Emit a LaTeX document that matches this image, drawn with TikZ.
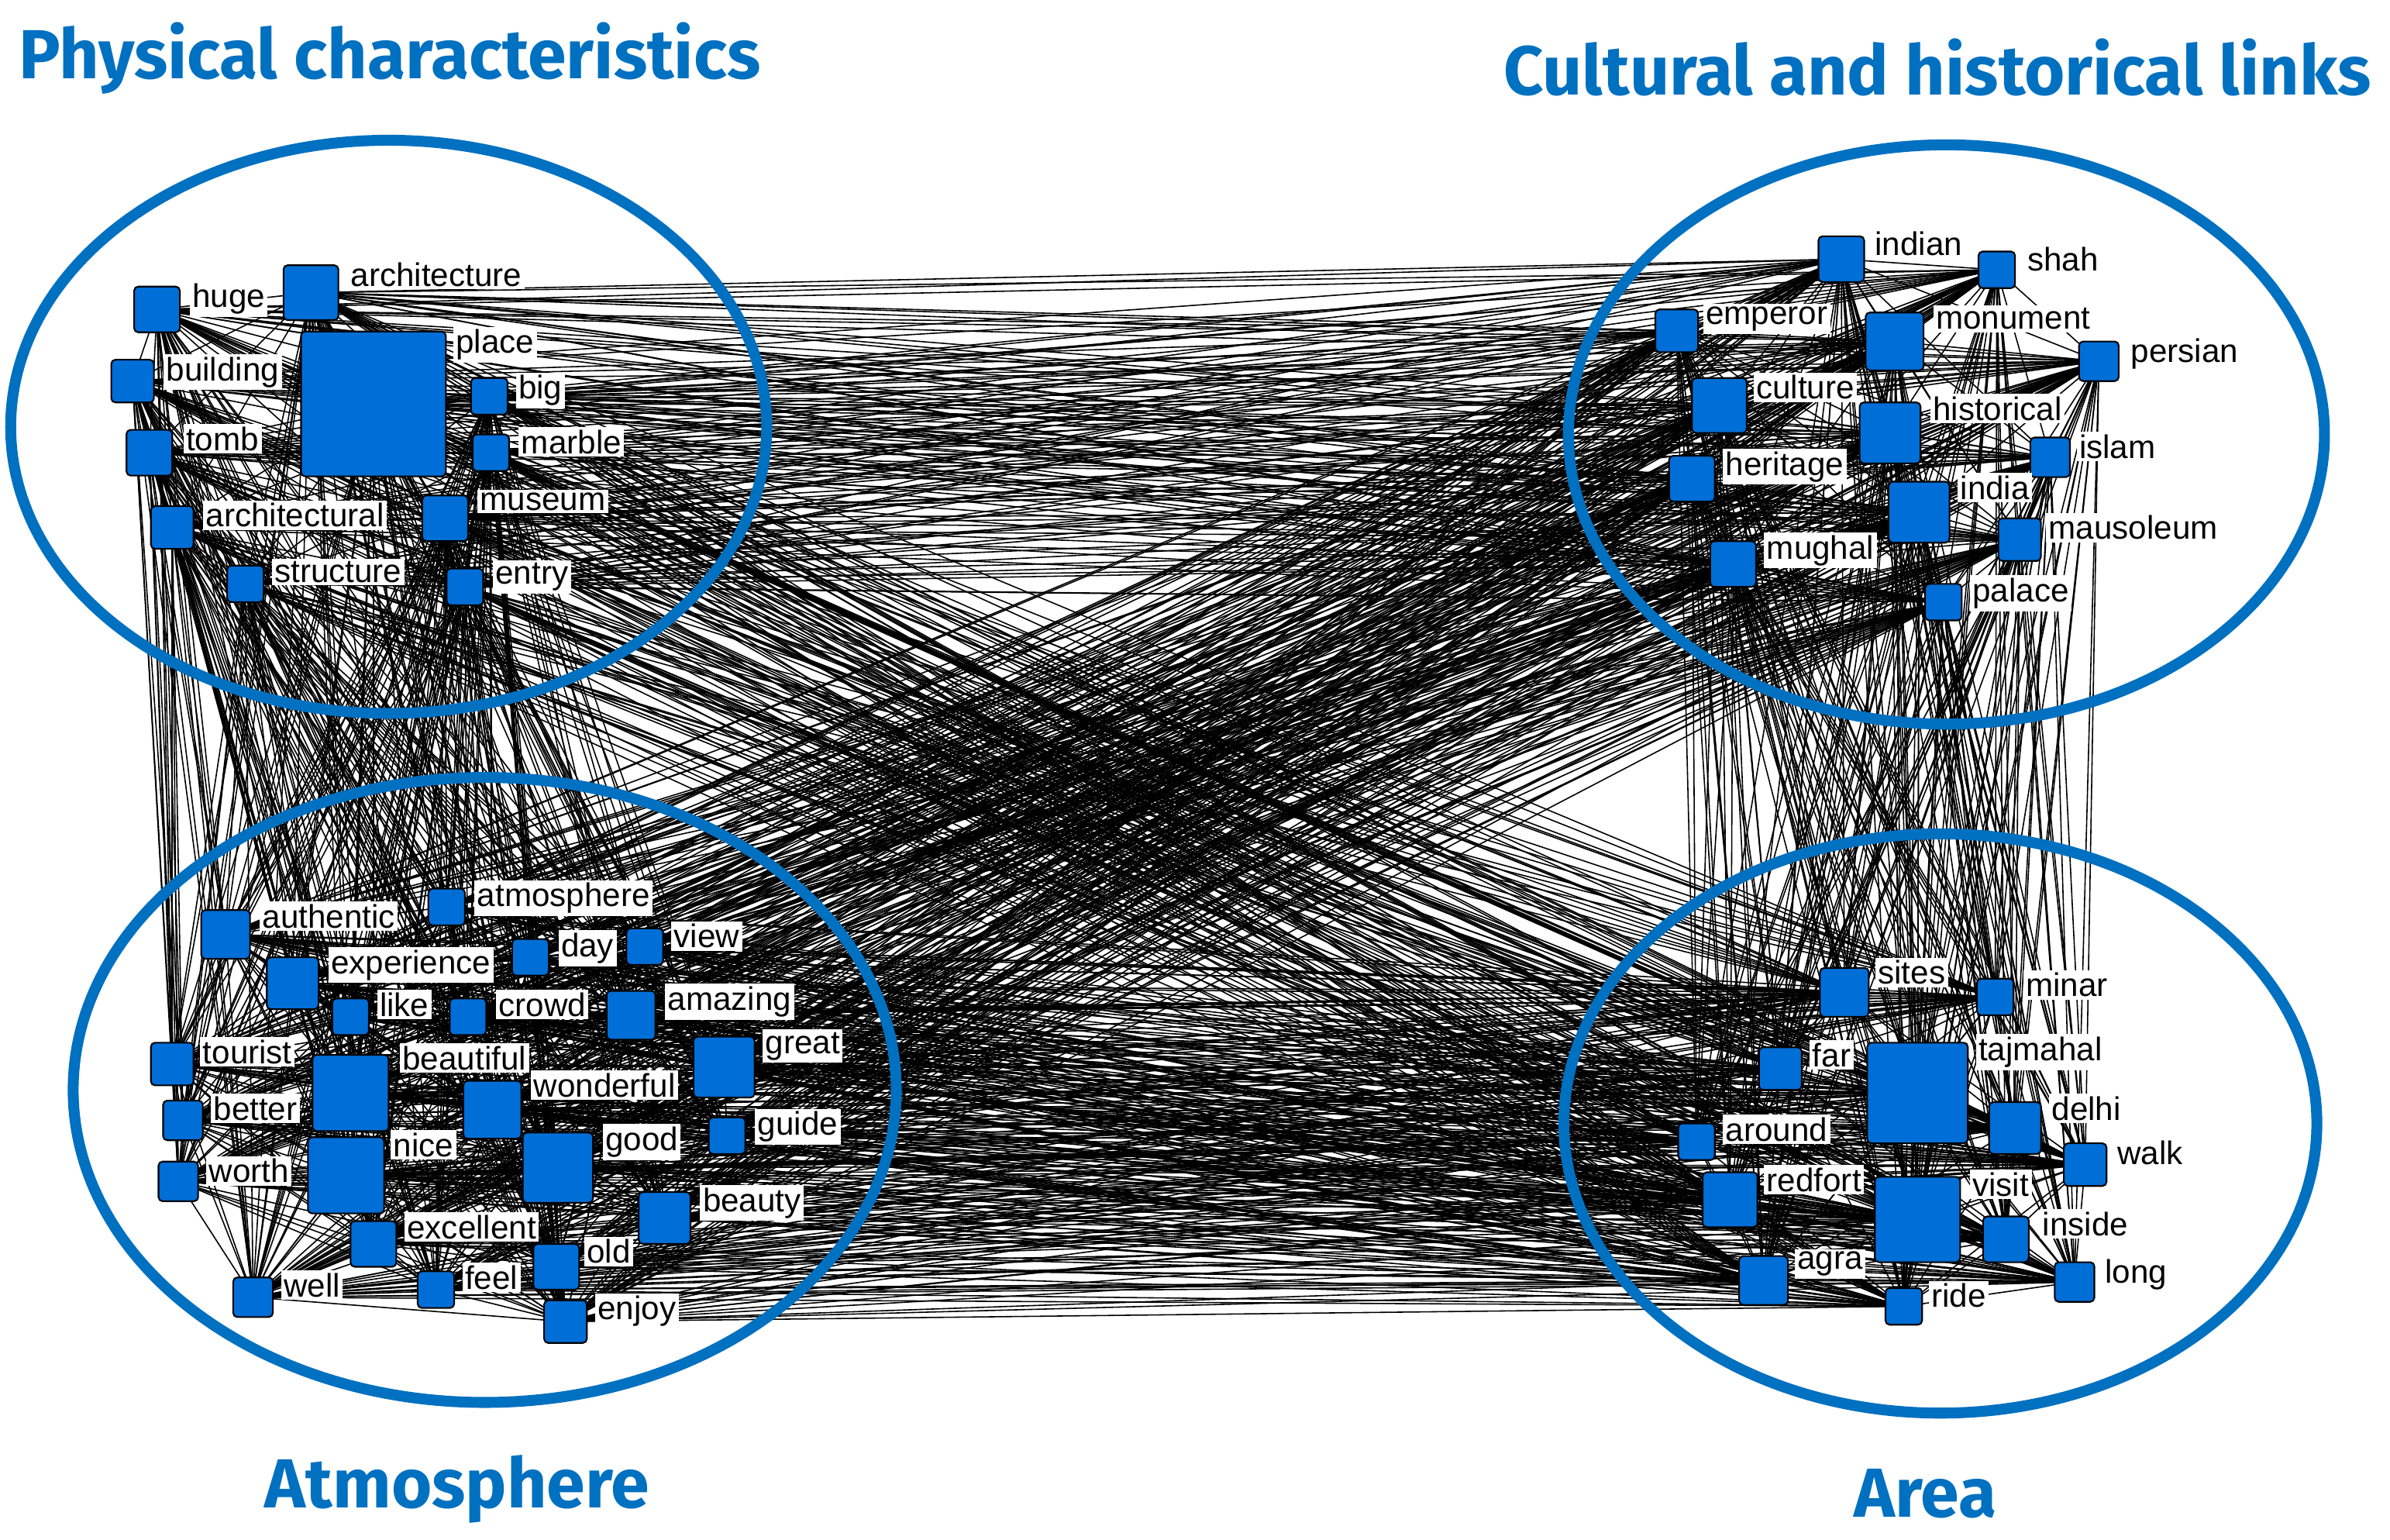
\documentclass[tikz,border=0pt]{standalone}
\usepackage{fontspec}
\setmainfont{Liberation Sans}
\newfontfamily\titlef{Fira Sans}
\usetikzlibrary{backgrounds}
\definecolor{cblue}{RGB}{0,112,192}
\definecolor{nblue}{RGB}{0,110,215}
\begin{document}
\begin{tikzpicture}[x=0.01967cm,y=-0.01967cm,
  sq/.style={draw=black,fill=nblue,rounded corners=1.5pt,line width=0.6pt,inner sep=0pt},
  lab/.style={fill=white,inner sep=1pt,font=\fontsize{12}{12}\selectfont,anchor=north west},
  clus/.style={draw=cblue,line width=4pt},
  ttl/.style={text=cblue,font=\titlef\bfseries\fontsize{25.5}{25.5}\selectfont}]
\useasboundingbox (0,0) rectangle (1568,1010);
\newcommand\wn[6]{\node[sq,minimum size=#4*0.01967cm] (#1) at (#2,#3) {};\node[lab] at (#5,#6) {#1};}
% Physical
\wn{huge}{103}{203}{30}{124}{184}
\wn{architecture}{204}{192}{36}{228}{170}
\wn{building}{87}{250}{28}{107}{232}
\wn{place}{245}{265}{95}{297}{214}
\wn{big}{321}{260}{24}{338}{244}
\wn{tomb}{98}{297}{30}{120}{278}
\wn{marble}{322}{297}{24}{340}{280}
\wn{museum}{292}{340}{30}{313}{321}
\wn{architectural}{113}{346}{28}{133}{328}
\wn{structure}{161}{383}{24}{178}{366}
\wn{entry}{305}{385}{24}{323}{367}
% Cultural
\wn{indian}{1208}{170}{30}{1228}{150}
\wn{shah}{1310}{177}{24}{1328}{160}
\wn{emperor}{1100}{217}{28}{1117}{199}
\wn{monument}{1243}{224}{38}{1268}{200}
\wn{persian}{1377}{237}{26}{1396}{220}
\wn{culture}{1128}{266}{36}{1150}{244}
\wn{historical}{1240}{284}{40}{1266}{258}
\wn{islam}{1345}{300}{26}{1362}{283}
\wn{heritage}{1110}{314}{30}{1130}{294}
\wn{india}{1259}{336}{40}{1284}{310}
\wn{mausoleum}{1325}{354}{28}{1342}{336}
\wn{mughal}{1137}{370}{30}{1157}{349}
\wn{palace}{1275}{395}{24}{1292}{377}
% Atmosphere
\wn{authentic}{148}{613}{32}{170}{591}
\wn{atmosphere}{293}{595}{24}{311}{577}
\wn{day}{348}{628}{24}{366}{610}
\wn{view}{423}{621}{24}{440}{604}
\wn{experience}{192}{645}{34}{215}{621}
\wn{like}{230}{667}{24}{247}{649}
\wn{crowd}{307}{667}{24}{325}{649}
\wn{amazing}{414}{666}{32}{436}{645}
\wn{great}{475}{700}{40}{500}{675}
\wn{tourist}{113}{698}{28}{131}{680}
\wn{beautiful}{230}{717}{50}{262}{684}
\wn{wonderful}{323}{728}{38}{348}{702}
\wn{better}{120}{735}{26}{138}{717}
\wn{guide}{477}{745}{24}{495}{727}
\wn{nice}{227}{771}{50}{256}{741}
\wn{good}{366}{766}{46}{395}{737}
\wn{worth}{117}{775}{26}{135}{758}
\wn{beauty}{436}{799}{34}{459}{777}
\wn{excellent}{245}{816}{30}{265}{795}
\wn{old}{365}{831}{30}{383}{811}
\wn{feel}{286}{846}{24}{303}{828}
\wn{well}{166}{851}{26}{184}{833}
\wn{enjoy}{371}{867}{28}{390}{848}
% Area
\wn{sites}{1210}{651}{32}{1230}{628}
\wn{minar}{1309}{654}{24}{1327}{636}
\wn{tajmahal}{1258}{717}{66}{1296}{678}
\wn{far}{1168}{701}{28}{1187}{682}
\wn{delhi}{1322}{740}{34}{1344}{717}
\wn{around}{1113}{749}{24}{1130}{731}
\wn{walk}{1368}{764}{28}{1387}{746}
\wn{redfort}{1135}{787}{36}{1157}{764}
\wn{visit}{1258}{800}{56}{1292}{767}
\wn{inside}{1316}{813}{30}{1338}{793}
\wn{agra}{1157}{840}{32}{1177}{819}
\wn{long}{1361}{841}{26}{1379}{824}
\wn{ride}{1249}{857}{24}{1265}{840}
\begin{scope}[on background layer]
\foreach \a [count=\i] in {huge,architecture,building,place,big,tomb,marble,museum,architectural,structure,entry,indian,shah,emperor,monument,persian,culture,historical,islam,heritage,india,mausoleum,mughal,palace,authentic,atmosphere,day,view,experience,like,crowd,amazing,great,tourist,beautiful,wonderful,better,guide,nice,good,worth,beauty,excellent,old,feel,well,enjoy,sites,minar,tajmahal,far,delhi,around,walk,redfort,visit,inside,agra,long,ride}{
  \foreach \b [count=\j] in {huge,architecture,building,place,big,tomb,marble,museum,architectural,structure,entry,indian,shah,emperor,monument,persian,culture,historical,islam,heritage,india,mausoleum,mughal,palace,authentic,atmosphere,day,view,experience,like,crowd,amazing,great,tourist,beautiful,wonderful,better,guide,nice,good,worth,beauty,excellent,old,feel,well,enjoy,sites,minar,tajmahal,far,delhi,around,walk,redfort,visit,inside,agra,long,ride}{
    \ifnum\j>\i \draw[line width=0.45pt] (\a.center)--(\b.center);\fi}}
\end{scope}
\draw[clus] (255,280) ellipse [x radius=248, y radius=188];
\draw[clus] (1277,285) ellipse [x radius=248, y radius=190];
\draw[clus] (318,715) ellipse [x radius=270, y radius=205];
\draw[clus] (1273,737) ellipse [x radius=247, y radius=190];
\node[ttl,anchor=west] (t1) at (6,38) {Physical characteristics};
\node[ttl,anchor=east] (t2) at (1562,44) {Cultural and historical links};
\node[ttl] (t3) at (300,977) {Atmosphere};
\node[ttl] (t4) at (1263,980) {Area};
\end{tikzpicture}
\end{document}
